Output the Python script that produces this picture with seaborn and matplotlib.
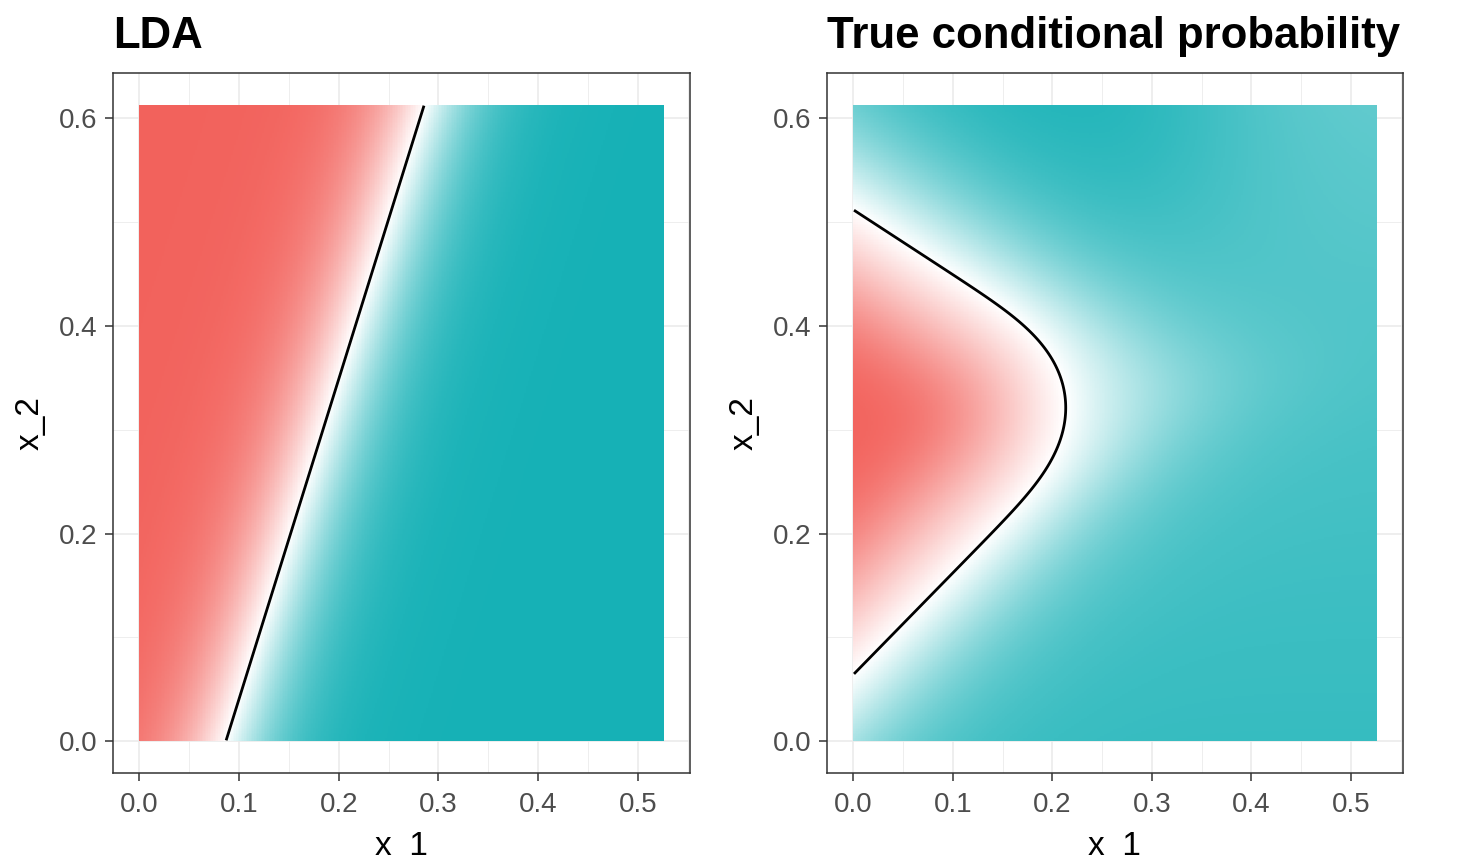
import numpy as np
import matplotlib
matplotlib.use("Agg")
import matplotlib.pyplot as plt
from matplotlib.colors import LinearSegmentedColormap
from matplotlib.ticker import FixedLocator
import seaborn as sns

# ---------------- data ----------------
x1_limits = [0.0, 0.526]
x2_limits = [0.0, 0.613]
grid_cells = [320, 380]

# LDA posterior (logit of teal class): intercept, x1, x2
lda_coef = [-2.52, 29.0, -9.41]

# "true" model: two teal components against the red class,
# each given by its boundary line a*x1 + b*x2 + c = 0
upper_line = [0.625, 1.0, -0.512]
lower_line = [0.98, -1.0, 0.064]
comp_slope = [16.0, 16.0]       # logit slope at the boundary
comp_grow_teal = [45.0, 45.0]   # extra growth on the teal side
comp_grow_red = [500.0, 500.0]  # extra growth on the red side
# ceiling of the teal log-odds: base, slope in x2, bump (height, x1, x2, width)
teal_ceiling = [2.6, -1.6]
teal_bump = [2.5, 0.17, 0.63, 0.12]

x_ticks = [0.0, 0.1, 0.2, 0.3, 0.4, 0.5]
x_tick_labels = ["0.0", "0.1", "0.2", "0.3", "0.4", "0.5"]
y_ticks = [0.0, 0.2, 0.4, 0.6]
y_tick_labels = ["0.0", "0.2", "0.4", "0.6"]
x_minor = [0.05, 0.15, 0.25, 0.35, 0.45, 0.55]
y_minor = [0.1, 0.3, 0.5]
titles = ["LDA", "True conditional probability"]
x_label = "x_1"
y_label = "x_2"
fill_colors = ["#F2625C", "#FFFFFF", "#16B1B6"]

# ---------------- grid / fields ----------------
ex = np.linspace(x1_limits[0], x1_limits[1], grid_cells[0] + 1)
ey = np.linspace(x2_limits[0], x2_limits[1], grid_cells[1] + 1)
cx = (ex[:-1] + ex[1:]) / 2
cy = (ey[:-1] + ey[1:]) / 2
X, Y = np.meshgrid(cx, cy)

p_lda = 1.0 / (1.0 + np.exp(-(lda_coef[0] + lda_coef[1] * X + lda_coef[2] * Y)))


def comp_logit(line, k, s, r):
    a, b, c = line
    n = (a * X + b * Y + c) / np.hypot(a, b)
    return k * n + s * np.maximum(n, 0) ** 2 - r * np.abs(np.minimum(n, 0)) ** 3


L = np.logaddexp(
    comp_logit(upper_line, comp_slope[0], comp_grow_teal[0], comp_grow_red[0]),
    comp_logit(lower_line, comp_slope[1], comp_grow_teal[1], comp_grow_red[1]))
ceiling = (teal_ceiling[0] + teal_ceiling[1] * Y
           + teal_bump[0] * np.exp(-((X - teal_bump[1]) ** 2 + (Y - teal_bump[2]) ** 2)
                                   / (2 * teal_bump[3] ** 2)))
L = np.where(L > 0, ceiling * np.tanh(L / ceiling), L)
p_true = 1.0 / (1.0 + np.exp(-L))

# ---------------- style ----------------
sns.set_theme(style="whitegrid")
plt.rcParams["font.family"] = ["Liberation Sans", "DejaVu Sans"]

cmap = LinearSegmentedColormap.from_list("rwt", fill_colors, N=512)

fig = plt.figure(figsize=(14.59, 8.59), dpi=100)
fig.patch.set_facecolor("white")

axes_rects = [
    [113 / 1459, 86 / 859, 577 / 1459, 700 / 859],
    [827 / 1459, 86 / 859, 576 / 1459, 700 / 859],
]

wx = x1_limits[1] - x1_limits[0]
wy = x2_limits[1] - x2_limits[0]

for rect, field, title in zip(axes_rects, [p_lda, p_true], titles):
    ax = fig.add_axes(rect)
    ax.set_facecolor("white")
    ax.set_axisbelow(True)
    ax.pcolormesh(ex, ey, field, cmap=cmap, vmin=0, vmax=1,
                  shading="flat", rasterized=True, zorder=1)
    ax.contour(cx, cy, field, levels=[0.5], colors="black",
               linewidths=2.0, zorder=3)
    ax.set_xlim(x1_limits[0] - 0.05 * wx, x1_limits[1] + 0.05 * wx)
    ax.set_ylim(x2_limits[0] - 0.05 * wy, x2_limits[1] + 0.05 * wy)

    ax.xaxis.set_major_locator(FixedLocator(x_ticks))
    ax.yaxis.set_major_locator(FixedLocator(y_ticks))
    ax.set_xticklabels(x_tick_labels)
    ax.set_yticklabels(y_tick_labels)
    ax.xaxis.set_minor_locator(FixedLocator(x_minor))
    ax.yaxis.set_minor_locator(FixedLocator(y_minor))

    ax.grid(which="major", color="#EBEBEB", linewidth=1.2)
    ax.grid(which="minor", color="#EBEBEB", linewidth=0.6)

    ax.tick_params(axis="both", which="major", direction="out", length=5.8,
                   width=1.1, color="#333333", labelcolor="#4D4D4D",
                   labelsize=20)
    ax.tick_params(axis="x", which="major", pad=8.0, bottom=True)
    ax.tick_params(axis="y", which="major", pad=5.5, left=True)
    ax.tick_params(which="minor", length=0)

    for sp in ax.spines.values():
        sp.set_color("#333333")
        sp.set_linewidth(1.1)
        sp.set_zorder(5)

    ax.set_title(title, loc="left", fontsize=31.5, fontweight="bold",
                 color="black", pad=18)

    ax.set_xlabel(x_label, fontsize=24, color="black")
    ax.xaxis.label.set_va("baseline")
    ax.xaxis.set_label_coords(0.5, (773 - 855) / 700)

    ax.set_ylabel(y_label, fontsize=24, color="black")
    ax.yaxis.label.set_va("center")
    ax.yaxis.set_label_coords(-83 / 577, 0.5)

fig.savefig("out.png", dpi=100, facecolor="white")
